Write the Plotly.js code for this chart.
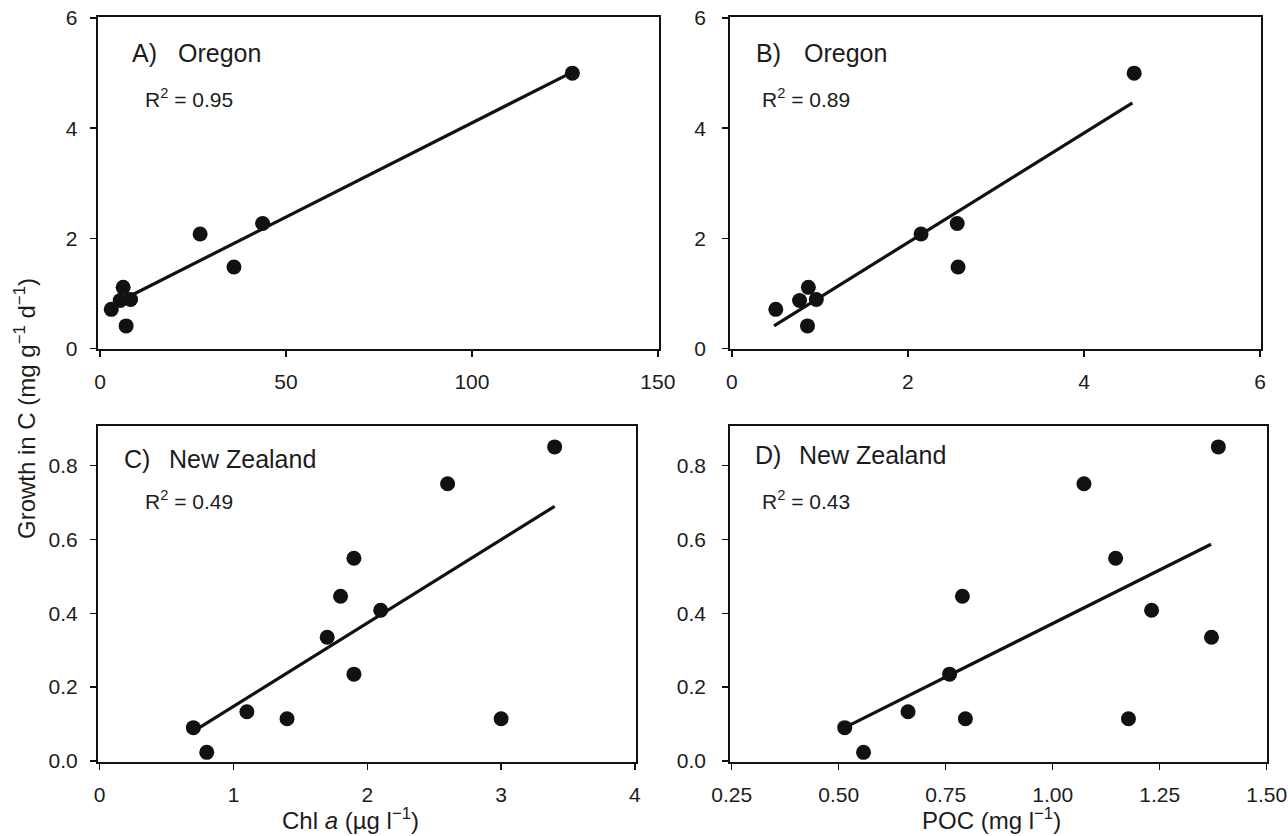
<!DOCTYPE html>
<html>
<head>
<meta charset="utf-8">
<script src="https://cdn.plot.ly/plotly-3.0.1.min.js"></script>
<style>
  html, body { margin: 0; padding: 0; background: #fff; }
  #chart { width: 1288px; height: 836px; }
</style>
</head>
<body>
<div id="chart"></div>
<script>
// ---------- data ----------
// Oregon (panels A and B): same samples, growth on the y axis
const oregonChl    = [127.0, 43.7, 26.9, 36.0, 6.2, 5.4, 8.2, 3.0, 7.0];
const oregonPoc    = [4.57, 2.56, 2.15, 2.57, 0.87, 0.77, 0.96, 0.50, 0.86];
const oregonGrowth = [5.00, 2.27, 2.08, 1.48, 1.11, 0.87, 0.89, 0.71, 0.41];

// New Zealand (panels C and D)
const nzChl    = [3.4, 2.6, 1.9, 1.8, 2.1, 1.7, 1.9, 1.1, 1.4, 3.0, 0.7, 0.8];
const nzPoc    = [1.387, 1.073, 1.147, 0.789, 1.231, 1.371, 0.759, 0.662, 0.796, 1.177, 0.514, 0.558];
const nzGrowth = [0.851, 0.751, 0.549, 0.446, 0.408, 0.335, 0.235, 0.133, 0.114, 0.114, 0.090, 0.023];

// Regression lines (end points)
const fitA_x = [3.0, 127.0];  const fitA_y = [0.78, 5.02];
const fitB_x = [0.48, 4.55];  const fitB_y = [0.41, 4.46];
const fitC_x = [0.70, 3.40];  const fitC_y = [0.080, 0.690];
const fitD_x = [0.514, 1.37]; const fitD_y = [0.090, 0.587];

// Texts
const panelLetters = ['A)', 'B)', 'C)', 'D)'];
const panelSites   = ['Oregon', 'Oregon', 'New Zealand', 'New Zealand'];
const r2Values     = ['0.95', '0.89', '0.49', '0.43'];
const yTitle  = 'Growth in C (mg g<sup>\u22121</sup> d<sup>\u22121</sup>)';
const xTitleC = 'Chl <i>a</i> (\u00b5g l<sup>\u22121</sup>)';
const xTitleD = 'POC (mg l<sup>\u22121</sup>)';

// ---------- layout helpers (pixel -> paper) ----------
const W = 1288, H = 836;
const px = x => x / W;
const py = y => 1 - y / H;

const FONT = '"Liberation Sans", Arial, Helvetica, sans-serif';
const INK = '#111111';
const TXT = '#1c1c1c';

const markerStyle = { symbol: 'circle', size: 15, color: INK, line: { width: 0 } };
const lineStyle = { color: INK, width: 3.2 };

function scatter(x, y, xa, ya) {
  return { x: x, y: y, xaxis: xa, yaxis: ya, type: 'scatter', mode: 'markers',
           marker: markerStyle, hoverinfo: 'skip', showlegend: false, cliponaxis: false };
}
function fit(x, y, xa, ya) {
  return { x: x, y: y, xaxis: xa, yaxis: ya, type: 'scatter', mode: 'lines',
           line: lineStyle, hoverinfo: 'skip', showlegend: false };
}

const traces = [
  fit(fitA_x, fitA_y, 'x', 'y'),   scatter(oregonChl, oregonGrowth, 'x', 'y'),
  fit(fitB_x, fitB_y, 'x2', 'y2'), scatter(oregonPoc, oregonGrowth, 'x2', 'y2'),
  fit(fitC_x, fitC_y, 'x3', 'y3'), scatter(nzChl, nzGrowth, 'x3', 'y3'),
  fit(fitD_x, fitD_y, 'x4', 'y4'), scatter(nzPoc, nzGrowth, 'x4', 'y4')
];

function axis(domain, range, anchor, extra) {
  return Object.assign({
    domain: domain, range: range, anchor: anchor,
    showgrid: false, zeroline: false,
    showline: true, mirror: true, linecolor: INK, linewidth: 1.8,
    ticks: 'outside', ticklen: 6, tickwidth: 1.5, tickcolor: INK,
    tickfont: { family: FONT, size: 21, color: TXT },
    ticklabelstandoff: 7,
    fixedrange: true
  }, extra || {});
}

const yTopDom = [py(349), py(17)];
const yBotDom = [py(762.3), py(425.7)];

const layout = {
  width: W, height: H,
  margin: { l: 0, r: 0, t: 0, b: 0, pad: 0 },
  paper_bgcolor: '#ffffff', plot_bgcolor: '#ffffff',
  font: { family: FONT, color: TXT },
  showlegend: false,
  xaxis:  axis([px(97.5), px(659)], [-0.7, 150.3], 'y',  { tickvals: [0, 50, 100, 150] }),
  yaxis:  axis(yTopDom, [-0.01, 6.02], 'x',  { tickvals: [0, 2, 4, 6], ticklabelstandoff: 8 }),
  xaxis2: axis([px(730), px(1261)], [-0.02, 6.01], 'y2', { tickvals: [0, 2, 4, 6] }),
  yaxis2: axis(yTopDom, [-0.01, 6.02], 'x2', { tickvals: [0, 2, 4, 6], ticklabelstandoff: 12 }),
  xaxis3: axis([px(97.7), px(636)], [-0.015, 4.008], 'y3', { tickvals: [0, 1, 2, 3, 4] }),
  yaxis3: axis(yBotDom, [-0.004, 0.9085], 'x3', { tickvals: [0, 0.2, 0.4, 0.6, 0.8], tickformat: '.1f', ticklabelstandoff: 8 }),
  xaxis4: axis([px(730), px(1267.3)], [0.246, 1.5014], 'y4', { tickvals: [0.25, 0.5, 0.75, 1.0, 1.25, 1.5], tickformat: '.2f' }),
  yaxis4: axis(yBotDom, [-0.004, 0.9085], 'x4', { tickvals: [0, 0.2, 0.4, 0.6, 0.8], tickformat: '.1f', ticklabelstandoff: 12 }),
  annotations: []
};

function txt(x, y, text, size, extra) {
  return Object.assign({
    xref: 'paper', yref: 'paper', x: px(x), y: py(y), text: text,
    showarrow: false, xanchor: 'left', yanchor: 'middle',
    font: { family: FONT, size: size, color: TXT }
  }, extra || {});
}

// panel labels: [letterX, siteX, labelY, r2X, r2Y]
const labelPos = [
  [130, 175.6, 53, 143, 98],
  [753.6, 802.4, 53, 759.8, 98],
  [122.3, 167, 459, 143, 500],
  [752.8, 797.4, 455, 759.8, 500]
];
labelPos.forEach((p, i) => {
  layout.annotations.push(txt(p[0], p[2], panelLetters[i], 25));
  layout.annotations.push(txt(p[1], p[2], panelSites[i], 25));
  layout.annotations.push(txt(p[3], p[4], 'R<sup>2</sup> = ' + r2Values[i], 21));
});

layout.annotations.push(txt(25, 409, yTitle, 24, { xanchor: 'center', textangle: -90 }));
layout.annotations.push(txt(350, 819, xTitleC, 24, { xanchor: 'center' }));
layout.annotations.push(txt(991, 819, xTitleD, 24, { xanchor: 'center' }));

Plotly.newPlot('chart', traces, layout, { staticPlot: true, displayModeBar: false });
</script>
</body>
</html>
